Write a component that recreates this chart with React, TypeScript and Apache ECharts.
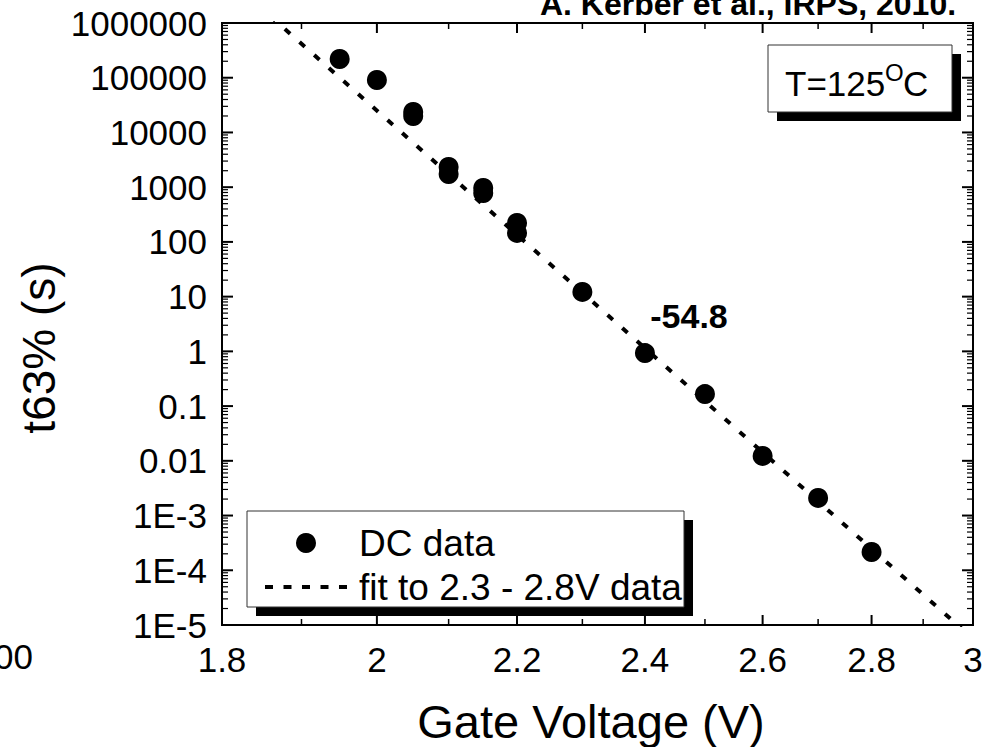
import React, { useEffect, useRef } from "react";
import * as echarts from "echarts";

// ---- data ----
const dcVoltage = [1.95, 2.0, 2.05, 2.05, 2.1, 2.1, 2.15, 2.15, 2.2, 2.2, 2.3, 2.4, 2.5, 2.6, 2.7, 2.8];
const dcT63 = [2.2e5, 9.1e4, 2.37e4, 2.0e4, 2340, 1740, 966, 783, 222, 146, 12.2, 0.93, 0.166, 0.0123, 0.0021, 2.16e-4];
const fitVoltage = [1.86, 2.98];
const fitT63 = [1.34e6, 8.1e-6];

const xMajorTicks = [1.8, 2.0, 2.2, 2.4, 2.6, 2.8, 3.0];
const xTickLabels = ["1.8", "2", "2.2", "2.4", "2.6", "2.8", "3"];
const xMinorTicks = [1.9, 2.1, 2.3, 2.5, 2.7, 2.9];
const yDecades = [1e-5, 1e-4, 1e-3, 0.01, 0.1, 1, 10, 100, 1000, 10000, 100000, 1000000];
const yTickLabels = ["1E-5", "1E-4", "1E-3", "0.01", "0.1", "1", "10", "100", "1000", "10000", "100000", "1000000"];
const yMinorMantissas = [2, 3, 4, 5, 6, 7, 8, 9];

const FONT = '"Liberation Sans", Arial, Helvetica, sans-serif';

export default function App() {
  const ref = useRef<HTMLDivElement>(null);

  useEffect(() => {
    if (!ref.current) return;
    const chart = echarts.init(ref.current, undefined, { renderer: "svg" });

    const renderTicks = (params: any, api: any) => {
      const cs = params.coordSys;
      const left = cs.x;
      const right = cs.x + cs.width;
      const top = cs.y;
      const bottom = cs.y + cs.height;
      const children: any[] = [];
      const tick = (x1: number, y1: number, x2: number, y2: number, w: number) =>
        children.push({ type: "line", shape: { x1, y1, x2, y2 }, style: { stroke: "#000", lineWidth: w } });

      xMajorTicks.forEach((v, i) => {
        const px = api.coord([v, 1])[0];
        tick(px, bottom, px, bottom - 10, 2);
        tick(px, top, px, top + 10, 2);
        children.push({
          type: "text",
          x: px,
          y: bottom + 17,
          style: { text: xTickLabels[i], fontSize: 35, fontFamily: FONT, fill: "#000", align: "center", verticalAlign: "top" },
        });
      });
      xMinorTicks.forEach((v) => {
        const px = api.coord([v, 1])[0];
        tick(px, bottom, px, bottom - 6, 1.5);
        tick(px, top, px, top + 6, 1.5);
      });
      yDecades.forEach((d, i) => {
        const py = api.coord([2, d])[1];
        tick(left, py, left + 11, py, 2);
        tick(right, py, right - 11, py, 2);
        children.push({
          type: "text",
          x: left - 15,
          y: py,
          style: { text: yTickLabels[i], fontSize: 35, fontFamily: FONT, fill: "#000", align: "right", verticalAlign: "middle" },
        });
        if (i < yDecades.length - 1) {
          yMinorMantissas.forEach((m) => {
            const qy = api.coord([2, m * d])[1];
            tick(left, qy, left + 6, qy, 1.2);
            tick(right, qy, right - 6, qy, 1.2);
          });
        }
      });
      return { type: "group", children };
    };

    const option: any = {
      animation: false,
      backgroundColor: "#fff",
      textStyle: { fontFamily: FONT },
      grid: {
        left: 222,
        right: 13,
        top: 23,
        bottom: 122,
        show: true,
        borderColor: "#000",
        borderWidth: 2,
        backgroundColor: "transparent",
      },
      xAxis: {
        type: "log",
        logBase: 10,
        min: 1.8,
        max: 3,
        axisLine: { show: false },
        axisTick: { show: false },
        axisLabel: { show: false },
        splitLine: { show: false },
      },
      yAxis: {
        type: "log",
        logBase: 10,
        min: 1e-5,
        max: 1e6,
        axisLine: { show: false },
        axisTick: { show: false },
        splitLine: { show: false },
        axisLabel: { show: false },
      },
      legend: {
        orient: "vertical",
        left: 258,
        top: 518,
        itemWidth: 82,
        itemHeight: 20,
        itemGap: 4,
        z: 10,
        textStyle: { fontSize: 37, fontFamily: FONT, color: "#000", lineHeight: 40, padding: [0, 0, 0, 7] },
        lineStyle: { color: "#000", width: 4, type: [8, 10.5] },
        data: [
          { name: "DC data", icon: "circle", itemStyle: { color: "#000", opacity: 1 } },
          {
            name: "fit to 2.3 - 2.8V data",
            itemStyle: { color: "rgba(0,0,0,0)", borderColor: "rgba(0,0,0,0)", borderWidth: 0 },
          },
        ],
      },
      graphic: [
        { type: "rect", z: 5, shape: { x: 256, y: 520, width: 437, height: 96 }, style: { fill: "#000" } },
        { type: "rect", z: 6, shape: { x: 247, y: 511, width: 437, height: 96 }, style: { fill: "#fff", stroke: "#333", lineWidth: 1 } },
        { type: "rect", z: 5, shape: { x: 777, y: 54, width: 184, height: 67 }, style: { fill: "#000" } },
        { type: "rect", z: 6, shape: { x: 768, y: 45, width: 184, height: 67 }, style: { fill: "#fff", stroke: "#333", lineWidth: 1 } },
        { type: "text", z: 7, x: 785, y: 83, style: { text: "T=125", fontSize: 35, fontFamily: FONT, fill: "#000", align: "left", verticalAlign: "middle" } },
        { type: "text", z: 7, x: 885, y: 72, style: { text: "O", fontSize: 24, fontFamily: FONT, fill: "#000", align: "left", verticalAlign: "middle" } },
        { type: "text", z: 7, x: 903, y: 83, style: { text: "C", fontSize: 35, fontFamily: FONT, fill: "#000", align: "left", verticalAlign: "middle" } },
        { type: "text", z: 7, x: 689, y: 316, style: { text: "-54.8", fontSize: 34, fontWeight: "bold", fontFamily: FONT, fill: "#000", align: "center", verticalAlign: "middle" } },
        { type: "text", z: 7, x: 748, y: 4, style: { text: "A. Kerber et al., IRPS, 2010.", fontSize: 32, fontWeight: "bold", fontFamily: FONT, fill: "#000", align: "center", verticalAlign: "middle" } },
        { type: "text", z: 7, x: 591, y: 721, style: { text: "Gate Voltage (V)", fontSize: 47, fontFamily: FONT, fill: "#000", align: "center", verticalAlign: "middle" } },
        { type: "text", z: 7, x: 39, y: 348, rotation: Math.PI / 2, style: { text: "t63% (s)", fontSize: 46, fontFamily: FONT, fill: "#000", align: "center", verticalAlign: "middle" } },
        { type: "text", z: 7, x: 33, y: 656, style: { text: "00", fontSize: 35, fontFamily: FONT, fill: "#000", align: "right", verticalAlign: "middle" } },
      ],
      series: [
        {
          name: "fit to 2.3 - 2.8V data",
          type: "line",
          data: fitVoltage.map((v, i) => [v, fitT63[i]]),
          symbol: "none",
          clip: true,
          z: 2,
          lineStyle: { color: "#000", width: 4, type: [7, 12.6], cap: "butt" },
          itemStyle: { color: "#000" },
        },
        {
          name: "DC data",
          type: "scatter",
          data: dcVoltage.map((v, i) => [v, dcT63[i]]),
          symbol: "circle",
          symbolSize: 20,
          z: 3,
          itemStyle: { color: "#000", opacity: 1 },
        },
        {
          type: "custom",
          silent: true,
          clip: false,
          z: 4,
          data: [[2, 1]],
          renderItem: renderTicks,
        },
      ],
    };

    chart.setOption(option);
    return () => chart.dispose();
  }, []);

  return <div ref={ref} style={{ position: "fixed", left: 0, top: 0, width: 986, height: 747 }} />;
}
